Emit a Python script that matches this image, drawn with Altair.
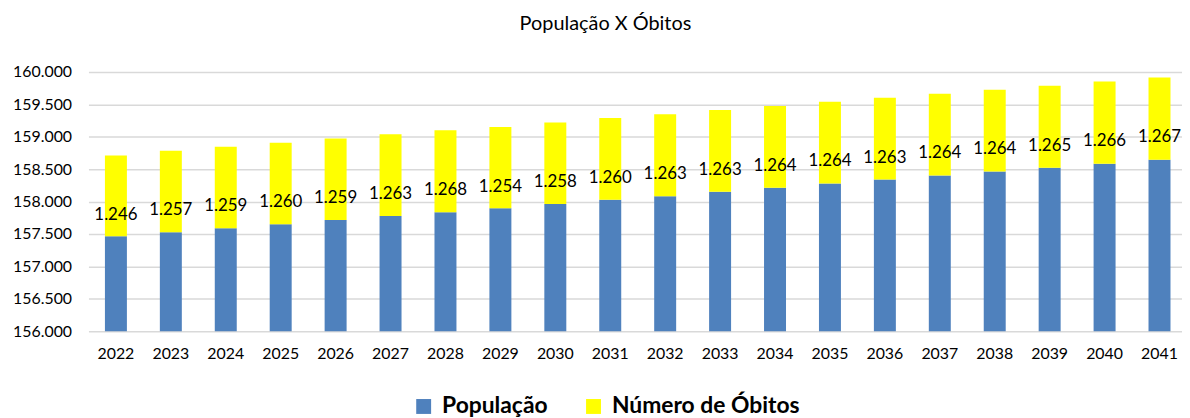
import altair as alt
import pandas as pd

years = ["2022", "2023", "2024", "2025", "2026", "2027", "2028", "2029", "2030", "2031",
         "2032", "2033", "2034", "2035", "2036", "2037", "2038", "2039", "2040", "2041"]
populacao = [157467, 157528, 157589, 157650, 157716, 157777, 157835, 157896, 157962, 158029,
             158084, 158152, 158213, 158279, 158340, 158402, 158463, 158524, 158586, 158647]
obitos = [1246, 1257, 1259, 1260, 1259, 1263, 1268, 1254, 1258, 1260,
          1263, 1263, 1264, 1264, 1263, 1264, 1264, 1265, 1266, 1267]
series_names = ["População", "Número de Óbitos"]
series_colors = ["#4f81bd", "#ffff00"]
y_ticks = [156000, 156500, 157000, 157500, 158000, 158500, 159000, 159500, 160000]

FONT = "Lato"
n = len(years)
long_df = pd.DataFrame({
    "ano": years * 2,
    "serie": [series_names[0]] * n + [series_names[1]] * n,
    "ordem": [0] * n + [1] * n,
    "valor": populacao + obitos,
})
wide_df = pd.DataFrame({"ano": years, "pop": populacao, "obitos": obitos})

x_scale = alt.Scale(range=[0, 1106], paddingInner=0.6, paddingOuter=0.3)
x_axis = alt.Axis(domain=False, ticks=False, labelAngle=0, labelPadding=14,
                  labelFont=FONT, labelFontSize=16, labelColor="#000000")
y_scale = alt.Scale(domain=[156000, 160000], zero=False, nice=False)
y_axis = alt.Axis(values=y_ticks, tickCount=9,
                  labelExpr="replace(format(datum.value, ',.0f'), ',', '.')",
                  labelOverlap=False,
                  grid=True, gridColor="#d9d9d9", gridWidth=1.5,
                  domain=False, ticks=False, labelPadding=17,
                  labelFont=FONT, labelFontSize=16, labelColor="#000000")

bars = alt.Chart(long_df).mark_bar(clip=True).encode(
    x=alt.X("ano:N", sort=years, title=None, scale=x_scale, axis=x_axis),
    y=alt.Y("valor:Q", stack="zero", title=None, scale=y_scale, axis=y_axis),
    color=alt.Color(
        "serie:N",
        scale=alt.Scale(domain=series_names, range=series_colors),
        legend=alt.Legend(
            title=None, orient="none", direction="horizontal",
            legendX=326, legendY=325,
            symbolType="square", symbolSize=225, symbolStrokeWidth=0,
            labelFont=FONT, labelFontSize=23, labelFontWeight="bold",
            labelColor="#000000", labelOffset=7, columnPadding=34,
            labelLimit=400,
        ),
    ),
    order=alt.Order("ordem:Q", sort="ascending"),
)

labels = alt.Chart(wide_df).transform_calculate(
    mid="datum.pop + datum.obitos / 2",
    txt="replace(format(datum.obitos, ',.0f'), ',', '.')",
).mark_text(dy=19, font=FONT, fontSize=17, color="#000000").encode(
    x=alt.X("ano:N", sort=years, title=None, scale=x_scale, axis=x_axis),
    y=alt.Y("mid:Q", title=None, scale=y_scale, axis=y_axis),
    text="txt:N",
)

chart = alt.layer(bars, labels).properties(
    width=1101,
    height=261,
    title=alt.TitleParams("População X Óbitos", font=FONT, fontSize=20,
                          fontWeight="normal", color="#000000",
                          anchor="middle", dx=-30, offset=30),
    padding={"left": 81, "top": 63, "right": 0, "bottom": 100},
    autosize="none",
).configure_view(stroke=None)

chart.save("out.html", embed_options={"renderer": "svg", "actions": False})
